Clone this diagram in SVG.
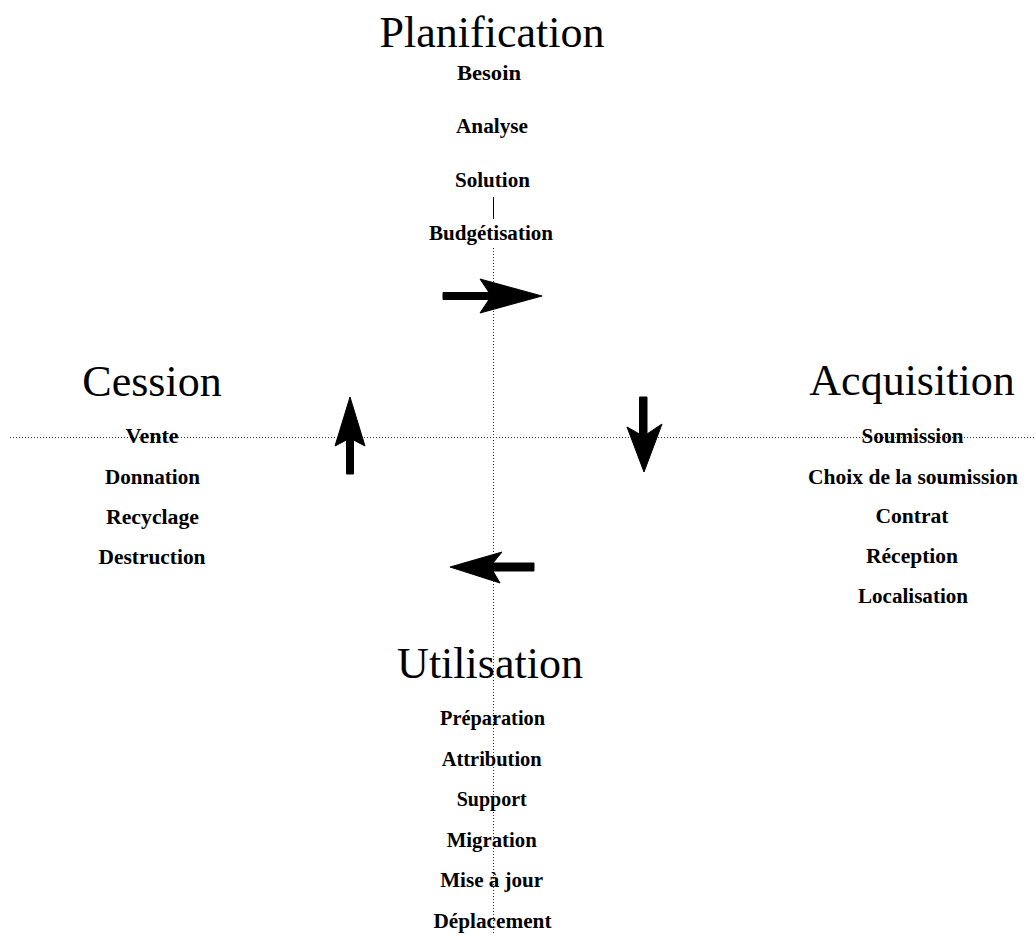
<svg xmlns="http://www.w3.org/2000/svg" width="1035" height="935" viewBox="0 0 1035 935">
<style>
.title{font-family:"Liberation Serif","Times New Roman",serif;font-size:44px;fill:#000;text-anchor:middle}
.item{font-family:"Liberation Serif","Times New Roman",serif;font-size:20px;font-weight:bold;fill:#000;text-anchor:middle}
.dot{stroke:#333;stroke-width:1;stroke-dasharray:1 2;fill:none}
.arrow{fill:#000;stroke:#000;stroke-width:1;stroke-linejoin:round}
</style>
<rect width="1035" height="935" fill="#fff"/>
<g id="connectors">
<line class="dot" x1="10" y1="437.5" x2="1035" y2="437.5"/>
<line class="dot" x1="493.5" y1="248" x2="493.5" y2="935"/>
<line x1="493.5" y1="197" x2="493.5" y2="219" stroke="#000" stroke-width="1"/>
<polygon class="arrow" points="443,292.5 489,292.5 480,279 542,296 480,313 489,299.5 443,299.5"/>
<polygon class="arrow" points="639.5,397 647,397 647,434 662,424 644,472 627,427 639.5,434"/>
<polygon class="arrow" points="534,563 534,571 493,571 500,583 450,567 502,552 493,563"/>
<polygon class="arrow" points="346.5,474 346.5,440 335,446 350,397 365,446 353.5,440 353.5,474"/>
</g>
<g id="planification">
<text class="title" x="492" y="47">Planification</text>
<text class="item" x="489" y="80" textLength="64" lengthAdjust="spacingAndGlyphs">Besoin</text>
<text class="item" x="492" y="133" textLength="72" lengthAdjust="spacingAndGlyphs">Analyse</text>
<text class="item" x="492.5" y="187" textLength="75" lengthAdjust="spacingAndGlyphs">Solution</text>
<text class="item" x="491" y="240" textLength="124" lengthAdjust="spacingAndGlyphs">Budgétisation</text>
</g>
<g id="acquisition">
<text class="title" x="912" y="395">Acquisition</text>
<text class="item" x="912.5" y="443" textLength="102" lengthAdjust="spacingAndGlyphs">Soumission</text>
<text class="item" x="913" y="484" textLength="210" lengthAdjust="spacingAndGlyphs">Choix de la soumission</text>
<text class="item" x="912" y="523" textLength="73" lengthAdjust="spacingAndGlyphs">Contrat</text>
<text class="item" x="912" y="563" textLength="92" lengthAdjust="spacingAndGlyphs">Réception</text>
<text class="item" x="913" y="603" textLength="110" lengthAdjust="spacingAndGlyphs">Localisation</text>
</g>
<g id="utilisation">
<text class="title" x="490" y="678">Utilisation</text>
<text class="item" x="492.5" y="725" textLength="105" lengthAdjust="spacingAndGlyphs">Préparation</text>
<text class="item" x="491.7" y="766" textLength="100" lengthAdjust="spacingAndGlyphs">Attribution</text>
<text class="item" x="491.7" y="806" textLength="70" lengthAdjust="spacingAndGlyphs">Support</text>
<text class="item" x="491.7" y="847" textLength="90" lengthAdjust="spacingAndGlyphs">Migration</text>
<text class="item" x="491.7" y="887" textLength="103" lengthAdjust="spacingAndGlyphs">Mise à jour</text>
<text class="item" x="492.5" y="928" textLength="118" lengthAdjust="spacingAndGlyphs">Déplacement</text>
</g>
<g id="cession">
<text class="title" x="152" y="396">Cession</text>
<text class="item" x="152" y="443" textLength="53" lengthAdjust="spacingAndGlyphs">Vente</text>
<text class="item" x="152.5" y="484" textLength="95" lengthAdjust="spacingAndGlyphs">Donnation</text>
<text class="item" x="152.5" y="524" textLength="93" lengthAdjust="spacingAndGlyphs">Recyclage</text>
<text class="item" x="152" y="564" textLength="107" lengthAdjust="spacingAndGlyphs">Destruction</text>
</g>
</svg>
